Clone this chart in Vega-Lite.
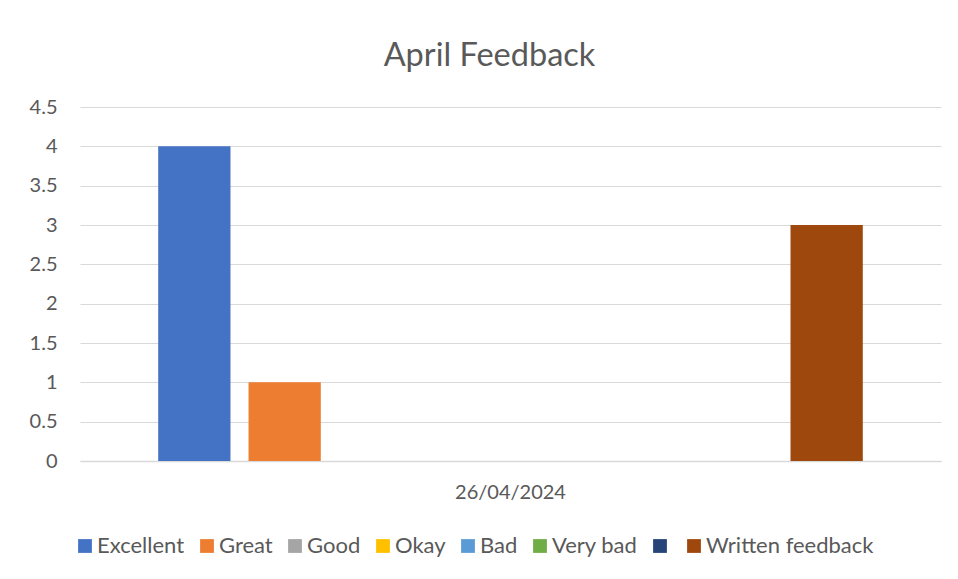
{
  "$schema": "https://vega.github.io/schema/vega-lite/v6.json",
  "width": 861,
  "height": 354,
  "autosize": {"type": "none"},
  "padding": {"left": 80, "top": 107, "right": 17, "bottom": 118},
  "background": "white",
  "title": {
    "text": "April Feedback",
    "font": "Lato",
    "fontSize": 32.5,
    "fontWeight": "normal",
    "color": "#595959",
    "anchor": "middle",
    "frame": "group",
    "baseline": "alphabetic",
    "dx": -21,
    "dy": 31,
    "offset": 30
  },
  "config": {
    "font": "Lato",
    "view": {"stroke": null}
  },
  "data": {
    "values": [
      {"date": "26/04/2024", "series": "Excellent", "count": 4},
      {"date": "26/04/2024", "series": "Great", "count": 1},
      {"date": "26/04/2024", "series": "Good", "count": 0},
      {"date": "26/04/2024", "series": "Okay", "count": 0},
      {"date": "26/04/2024", "series": "Bad", "count": 0},
      {"date": "26/04/2024", "series": "Very bad", "count": 0},
      {"date": "26/04/2024", "series": "Series7", "count": 0},
      {"date": "26/04/2024", "series": "Written feedback", "count": 3}
    ]
  },
  "mark": {"type": "bar"},
  "encoding": {
    "x": {
      "field": "date",
      "type": "nominal",
      "scale": {"paddingInner": 0, "paddingOuter": 0.111},
      "axis": {
        "title": null,
        "labelAngle": 0,
        "labelFont": "Lato",
        "labelFontSize": 20,
        "labelColor": "#595959",
        "labelPadding": 21,
        "ticks": false,
        "domainColor": "#D9D9D9",
        "domainWidth": 1.5
      }
    },
    "xOffset": {
      "field": "series",
      "type": "nominal",
      "sort": ["Excellent", "Great", "Good", "Okay", "Bad", "Very bad", "Series7", "Written feedback"],
      "scale": {"paddingInner": 0.2, "paddingOuter": 0}
    },
    "y": {
      "field": "count",
      "type": "quantitative",
      "scale": {"domain": [0, 4.5], "nice": false},
      "axis": {
        "title": null,
        "values": [0, 0.5, 1, 1.5, 2, 2.5, 3, 3.5, 4, 4.5],
        "format": "~g",
        "domain": false,
        "ticks": false,
        "labelPadding": 23,
        "labelFont": "Lato",
        "labelFontSize": 20,
        "labelColor": "#595959",
        "gridColor": "#D9D9D9",
        "gridWidth": 1.2
      }
    },
    "color": {
      "field": "series",
      "type": "nominal",
      "scale": {
        "domain": ["Excellent", "Great", "Good", "Okay", "Bad", "Very bad", "Series7", "Written feedback"],
        "range": ["#4472C4", "#ED7D31", "#A5A5A5", "#FFC000", "#5B9BD5", "#70AD47", "#264478", "#9E480E"]
      },
      "legend": {
        "title": null,
        "orient": "none",
        "direction": "horizontal",
        "columns": 8,
        "legendX": -6,
        "legendY": 428,
        "symbolType": "square",
        "symbolSize": 190,
        "symbolStrokeWidth": 0,
        "symbolOpacity": 1,
        "labelOffset": 1,
        "columnPadding": 11,
        "labelFont": "Lato",
        "labelFontSize": 22,
        "labelColor": "#595959",
        "labelLimit": 400,
        "labelExpr": "datum.label == 'Series7' ? '' : datum.label"
      }
    }
  }
}
